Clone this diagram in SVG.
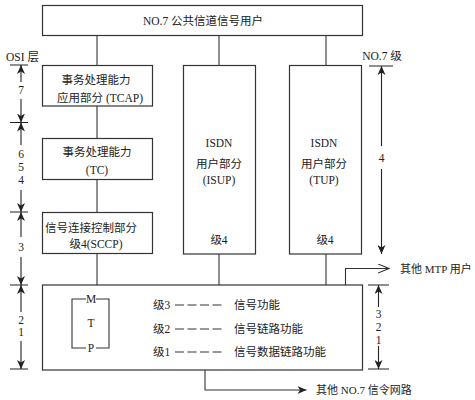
<svg xmlns="http://www.w3.org/2000/svg" width="475" height="400" viewBox="0 0 475 400">
<style>
.box{fill:#fff;stroke:#333;stroke-width:1.2}
.ln{fill:none;stroke:#333;stroke-width:1.1}
.t{font-family:"Liberation Serif","Noto Sans CJK SC",serif;font-size:11.5px;fill:#222;text-anchor:middle;dominant-baseline:central}
.s{text-anchor:start}
.ax{fill:none;stroke:#222;stroke-width:1.1}
.dash{stroke:#333;stroke-width:1.1;stroke-dasharray:9 3.5}
</style>
<defs>
<marker id="tip" viewBox="0 0 9 8" refX="9" refY="4" markerWidth="9" markerHeight="8" markerUnits="userSpaceOnUse" orient="auto">
<path d="M0,0 L9,4 L0,8 L2.5,4 z" fill="#222"/>
</marker>
<marker id="open" viewBox="0 0 12 10" refX="11" refY="5" markerWidth="12" markerHeight="10" markerUnits="userSpaceOnUse" orient="auto">
<path d="M0,0.5 L11,5 L0,9.5" fill="none" stroke="#333" stroke-width="1.1"/>
</marker>
</defs>
<rect width="475" height="400" fill="#fff"/>

<g id="connectors">
<path class="ln" d="M97,36 V65"/>
<path class="ln" d="M219,36 V65"/>
<path class="ln" d="M326,36 V65"/>
<path class="ln" d="M97,106 V138"/>
<path class="ln" d="M97,180 V212"/>
<path class="ln" d="M97,254 V285"/>
<path class="ln" d="M219,254 V285"/>
<path class="ln" d="M326,254 V285"/>
<path class="ln" d="M345.5,285 V268.5 H389" marker-end="url(#open)"/>
<path class="ln" d="M205,370 V390 H306.5" marker-end="url(#tip)"/>
</g>

<g id="user">
<rect class="box" x="42.5" y="5.5" width="320" height="30"/>
<text class="t" x="203" y="21">NO.7 公共信道信号用户</text>
</g>

<g id="tcap">
<rect class="box" x="42.5" y="65.5" width="110" height="40.5"/>
<text class="t" x="96" y="80">事务处理能力</text>
<text class="t" x="100" y="97.5">应用部分 (TCAP)</text>
</g>

<g id="tc">
<rect class="box" x="42.5" y="138.5" width="110" height="41"/>
<text class="t" x="97" y="152">事务处理能力</text>
<text class="t" x="97" y="170">(TC)</text>
</g>

<g id="sccp">
<rect class="box" x="42.5" y="212.5" width="110" height="41"/>
<text class="t" x="91" y="227.5">信号连接控制部分</text>
<text class="t" x="96" y="243.5">级4(SCCP)</text>
</g>

<g id="isup">
<rect class="box" x="183.5" y="65.5" width="72" height="188.5"/>
<text class="t" x="219" y="143">ISDN</text>
<text class="t" x="219" y="163.5">用户部分</text>
<text class="t" x="219" y="180">(ISUP)</text>
<text class="t" x="219" y="240">级4</text>
</g>

<g id="tup">
<rect class="box" x="289.5" y="65.5" width="72" height="188.5"/>
<text class="t" x="324" y="143">ISDN</text>
<text class="t" x="324" y="163.5">用户部分</text>
<text class="t" x="324" y="180">(TUP)</text>
<text class="t" x="325" y="240">级4</text>
</g>

<g id="mtp">
<rect class="box" x="42.5" y="285" width="320" height="85"/>
<path class="ln" d="M86,299 H72 V348 H86 M96,299 H109 V348 H96"/>
<text class="t" x="91" y="298.5">M</text>
<text class="t" x="91" y="323">T</text>
<text class="t" x="91" y="347.5">P</text>
<text class="t s" x="153" y="305">级3</text>
<line class="dash" x1="175" y1="305" x2="221.5" y2="305"/>
<text class="t s" x="234" y="305">信号功能</text>
<text class="t s" x="153" y="329">级2</text>
<line class="dash" x1="175" y1="329" x2="221.5" y2="329"/>
<text class="t s" x="234" y="329">信号链路功能</text>
<text class="t s" x="153" y="352">级1</text>
<line class="dash" x1="175" y1="352" x2="221.5" y2="352"/>
<text class="t s" x="234" y="352">信号数据链路功能</text>
</g>

<g id="external">
<text class="t s" x="400" y="268.5" style="font-size:11px">其他 MTP 用户</text>
<text class="t s" x="316" y="389.5" style="font-size:11px">其他 NO.7 信令网路</text>
</g>

<g id="osi-scale">
<text class="t" x="22.5" y="57">OSI 层</text>
<path class="ax" d="M10,65 H28 M10,122.5 H28 M10,212 H28 M10,285 H28 M10,369 H28"/>
<line class="ax" x1="21" y1="82" x2="21" y2="65" marker-end="url(#tip)"/>
<line class="ax" x1="21" y1="99" x2="21" y2="122.5" marker-end="url(#tip)"/>
<line class="ax" x1="21" y1="145" x2="21" y2="122.5" marker-end="url(#tip)"/>
<line class="ax" x1="21" y1="190" x2="21" y2="212" marker-end="url(#tip)"/>
<line class="ax" x1="21" y1="237" x2="21" y2="212" marker-end="url(#tip)"/>
<line class="ax" x1="21" y1="257" x2="21" y2="285" marker-end="url(#tip)"/>
<line class="ax" x1="21" y1="312" x2="21" y2="285" marker-end="url(#tip)"/>
<line class="ax" x1="21" y1="341" x2="21" y2="369" marker-end="url(#tip)"/>
<text class="t" x="21" y="89.5">7</text>
<text class="t" x="21" y="153.5">6</text>
<text class="t" x="21" y="167">5</text>
<text class="t" x="21" y="180">4</text>
<text class="t" x="21" y="247">3</text>
<text class="t" x="21" y="320">2</text>
<text class="t" x="21" y="332">1</text>
</g>

<g id="no7-scale">
<text class="t" x="382" y="56">NO.7 级</text>
<path class="ax" d="M369,66 H393 M368,285 H389 M368,369 H389"/>
<line class="ax" x1="381.5" y1="146" x2="381.5" y2="66" marker-end="url(#tip)"/>
<line class="ax" x1="381.5" y1="169" x2="381.5" y2="254" marker-end="url(#tip)"/>
<text class="t" x="381.5" y="157.5">4</text>
<line class="ax" x1="378.5" y1="307" x2="378.5" y2="285" marker-end="url(#tip)"/>
<line class="ax" x1="378.5" y1="346" x2="378.5" y2="369" marker-end="url(#tip)"/>
<text class="t" x="378.5" y="314">3</text>
<text class="t" x="378.5" y="327">2</text>
<text class="t" x="378.5" y="340">1</text>
</g>
</svg>
